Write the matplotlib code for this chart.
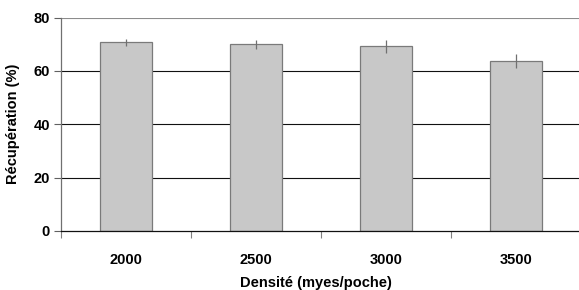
import numpy as np
import matplotlib
matplotlib.use('Agg')
import matplotlib.pyplot as plt

# data
densites = ['2000', '2500', '3000', '3500']
recuperation = [70.7, 69.9, 69.2, 63.6]
erreur = [1.2, 1.6, 2.4, 2.6]
yticks = [0, 20, 40, 60, 80]

plt.rcParams['font.family'] = ['Liberation Sans', 'DejaVu Sans']
plt.rcParams['font.weight'] = 'bold'

fig = plt.figure(figsize=(5.79, 2.90), dpi=100)
ax = fig.add_axes([61/579, 1-231/290, 520/579, 213.5/290])

x = np.arange(len(densites))
#gridlines first so bars sit on top
for v in yticks[1:-1]:
    ax.axhline(v, color='#111111', lw=0.8, zorder=0)
ax.axhline(yticks[-1], color='#8c8c8c', lw=0.8, zorder=0)

ax.bar(x, recuperation, width=0.4, color='#c8c8c8', edgecolor='#7a7a7a',
       linewidth=0.9, zorder=2)
ax.errorbar(x, recuperation, yerr=erreur, fmt='none', ecolor='#707070',
            elinewidth=0.9, capsize=0, zorder=3)

ax.set_xlim(-0.5, len(densites)-0.5)
ax.set_ylim(0, 80)

#x ticks on category boundaries, labels at centers
ax.set_xticks(np.arange(-0.5, len(densites)+0.5, 1.0))
ax.set_xticklabels([])
ax.set_xticks(x, minor=True)
ax.set_xticklabels(densites, minor=True, fontsize=10.5, fontweight='bold')
ax.tick_params(axis='x', which='major', length=5, width=0.8, color='#808080', direction='out')
ax.tick_params(axis='x', which='minor', length=0, pad=16)

ax.set_yticks(yticks)
ax.set_yticklabels([str(v) for v in yticks], fontsize=10.5, fontweight='bold')
ax.tick_params(axis='y', length=5, width=0.8, color='#606060', direction='out', pad=3)

for s in ['top', 'right']:
    ax.spines[s].set_visible(False)
ax.spines['left'].set_color('#707070')
ax.spines['left'].set_linewidth(0.9)
ax.spines['bottom'].set_color('#111111')
ax.spines['bottom'].set_linewidth(0.9)
ax.spines['bottom'].set_zorder(4)

fig.text(316/579, 1-283/290, 'Densité (myes/poche)', ha='center', va='center',
         fontsize=10.5, fontweight='bold')
fig.text(13/579, 1-124/290, 'Récupération (%)', ha='center', va='center',
         rotation=90, fontsize=10.5, fontweight='bold')

plt.savefig('out.png', dpi=100)
